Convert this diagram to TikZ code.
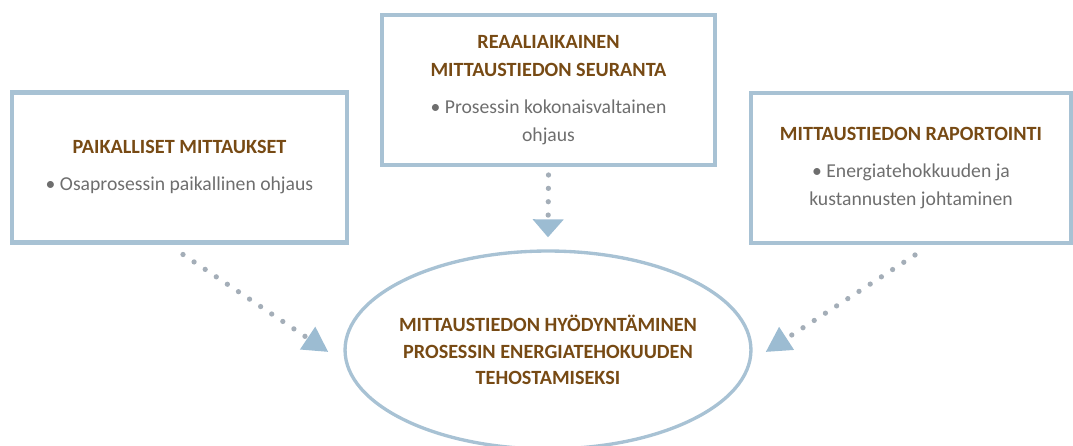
\documentclass[tikz,border=0pt]{standalone}
\usepackage{fontspec}
\setmainfont{Carlito}
\usepackage{xcolor}
\definecolor{mtframe}{HTML}{A8C2D4}
\definecolor{mtbrown}{HTML}{774A14}
\definecolor{mttext}{HTML}{6E6E6E}
\definecolor{mtdot}{HTML}{A4AEB8}
\definecolor{mthead}{HTML}{9CBCD2}
\usepackage{tikz}
\usetikzlibrary{arrows.meta,shapes.geometric,calc}
\newcommand{\mttitle}[1]{{\color{mtbrown}\fontsize{11.5}{16}\selectfont\bfseries #1}}
\tikzset{
  mtbox/.style={draw=mtframe,line width=2.3pt,rectangle,align=center,text=mttext,font=\fontsize{11.2}{16}\selectfont,minimum height=3cm},
  mtgoal/.style={draw=mtframe,line width=1.9pt,ellipse,inner xsep=-8pt,inner ysep=0pt,align=center,font=\fontsize{11.2}{15}\selectfont,minimum width=8.12cm,minimum height=3.96cm},
  mtflow/.style={draw=mtdot,line width=3pt,line cap=round,dash pattern=on 0pt off 7.6pt},
}

\begin{document}
\begin{tikzpicture}[x=0.02cm,y=-0.02cm]
\useasboundingbox (0,0) rectangle (1073,446);
\node[mtbox,minimum width=6.7cm] (paik) at (179.5,167.5) {\mttitle{PAIKALLISET MITTAUKSET}\\[5pt]• Osaprosessin paikallinen ohjaus};
\node[mtbox,minimum width=6.66cm] (reaali) at (548.5,90) {\mttitle{REAALIAIKAINEN}\\\mttitle{MITTAUSTIEDON SEURANTA}\\[5pt]• Prosessin kokonaisvaltainen\\ohjaus};
\node[mtbox,minimum width=6.4cm] (rap) at (911,168) {\mttitle{MITTAUSTIEDON RAPORTOINTI}\\[5pt]• Energiatehokkuuden ja\\kustannusten johtaminen};
\node[mtgoal] (goal) at (548,350) {\mttitle{MITTAUSTIEDON HYÖDYNTÄMINEN}\\\mttitle{PROSESSIN ENERGIATEHOKUUDEN}\\\mttitle{TEHOSTAMISEKSI}};
% dotted feeds into the goal
\coordinate (l0) at ($(paik.south)+(3.5,10)$);
\coordinate (l1) at ($(goal.west)+(-15,2)$);
\coordinate (m0) at ($(reaali.south)+(0,8)$);
\coordinate (m1) at ($(goal.north)+(0,-12)$);
\coordinate (r0) at ($(rap.south)+(4,10)$);
\coordinate (r1) at ($(goal.east)+(13,2)$);
\draw[mtflow,-{Triangle[length=5mm,width=5.2mm,color=mthead]}] (l0) -- (l1);
\draw[mtflow,-{Triangle[length=3.6mm,width=6mm,color=mthead]}] (m0) -- (m1);
\draw[mtflow,-{Triangle[length=5mm,width=5.2mm,color=mthead]}] (r0) -- (r1);
\end{tikzpicture}
\end{document}
